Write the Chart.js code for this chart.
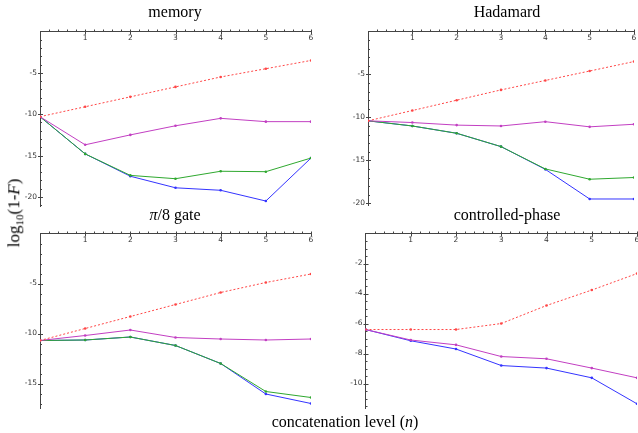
<!DOCTYPE html>
<html>
<head>
<meta charset="utf-8">
<script src="https://cdn.jsdelivr.net/npm/chart.js@4.4.1/dist/chart.umd.min.js"></script>
<style>
  html, body { margin: 0; padding: 0; background: #fff; }
  body { width: 638px; height: 433px; position: relative; overflow: hidden; }
  canvas { position: absolute; left: 0; top: 0; }
  .lbl { position: absolute; font-family: "Liberation Serif", "DejaVu Serif", serif; font-size: 16px; color: #000; white-space: nowrap; }
  .title { transform: translateX(-50%); }
</style>
</head>
<body>
<canvas id="c1" width="700" height="433"></canvas>
<canvas id="c2" width="700" height="433"></canvas>
<canvas id="c3" width="700" height="433"></canvas>
<canvas id="c4" width="700" height="433"></canvas>

<div class="lbl title" style="left:175px; top:3px;">memory</div>
<div class="lbl title" style="left:507px; top:3px;">Hadamard</div>
<div class="lbl title" style="left:175px; top:206px;"><i>π</i>/8 gate</div>
<div class="lbl title" style="left:507px; top:206px;">controlled-phase</div>
<div class="lbl" style="left:345px; top:413px; transform:translateX(-50%);">concatenation level (<i>n</i>)</div>
<div class="lbl" style="left:15px; top:213px; font-size:17px; transform:translate(-50%,-50%) rotate(-90deg);">log<sub style="font-size:11px;">10</sub>(1-<i>F</i>)</div>

<script>
// concatenation levels
const levels = [0, 1, 2, 3, 4, 5, 6];
const xTicks = [1, 2, 3, 4, 5, 6];

// memory
const memRed = [-10.3, -9.1, -7.9, -6.7, -5.5, -4.5, -3.5];
const memPurple = [-10.3, -13.7, -12.5, -11.4, -10.5, -10.9, -10.9];
const memGreen = [-10.3, -14.8, -17.4, -17.8, -16.9, -16.95, -15.3];
const memBlue = [-10.3, -14.8, -17.5, -18.9, -19.2, -20.5, -15.3];
const memTicks = [-5, -10, -15, -20];

// Hadamard
const hadRed = [-10.4, -9.2, -8.0, -6.8, -5.7, -4.6, -3.5];
const hadPurple = [-10.4, -10.6, -10.9, -11.0, -10.5, -11.1, -10.8];
const hadGreen = [-10.4, -11.0, -11.85, -13.4, -16.0, -17.2, -17.0];
const hadBlue = [-10.4, -11.0, -11.85, -13.4, -16.05, -19.5, -19.5];
const hadTicks = [-5, -10, -15, -20];

// pi/8 gate
const p8Red = [-10.7, -9.5, -8.3, -7.1, -5.9, -4.9, -4.05];
const p8Purple = [-10.7, -10.2, -9.65, -10.4, -10.55, -10.65, -10.55];
const p8Green = [-10.7, -10.65, -10.35, -11.2, -13.0, -15.8, -16.4];
const p8Blue = [-10.7, -10.65, -10.35, -11.2, -13.0, -16.05, -17.0];
const p8Ticks = [-5, -10, -15];

// controlled-phase
const cpRed = [-6.4, -6.4, -6.4, -6.0, -4.8, -3.77, -2.67];
const cpPurple = [-6.4, -7.1, -7.42, -8.2, -8.35, -8.97, -9.62];
const cpBlue = [-6.4, -7.15, -7.7, -8.8, -8.97, -9.62, -11.35];
const cpTicks = [-2, -4, -6, -8, -10];

const RED = '#ff4646', PURPLE = '#c23fc2', GREEN = '#2fa82f', BLUE = '#3434ff';
const AXIS = '#444';
const YAXIS_W = 30;

function ds(data, color, dashed) {
    return {
        data: levels.map((x, i) => ({ x: x, y: data[i] })),
        borderColor: color,
        backgroundColor: color,
        borderWidth: 1,
        borderDash: dashed ? [2, 2] : [],
        pointRadius: 1.3,
        pointBorderWidth: 0,
        tension: 0
    };
}

// Mathematica-like small ticks drawn onto the axis lines
const axisTicks = {
    id: 'axisTicks',
    afterDraw(chart, args, opts) {
        const ctx = chart.ctx;
        const xs = chart.scales.x, ys = chart.scales.y;
        const y0 = ys.getPixelForValue(0), x0 = xs.getPixelForValue(0);
        ctx.save();
        ctx.strokeStyle = AXIS;
        ctx.lineWidth = 1;
        ctx.beginPath();
        for (let v = 0.2; v <= 6.001; v += 0.2) {
            const px = Math.round(xs.getPixelForValue(v)) + 0.5;
            const major = Math.abs(v - Math.round(v)) < 0.01;
            ctx.moveTo(px, y0 - 2);
            ctx.lineTo(px, y0 + (major ? 3 : 0));
        }
        for (let v = -opts.minor; v >= ys.min; v -= opts.minor) {
            const py = Math.round(ys.getPixelForValue(v)) + 0.5;
            const major = Math.abs(v / opts.major - Math.round(v / opts.major)) < 0.01;
            ctx.moveTo(x0 - (major ? 2 : 0), py);
            ctx.lineTo(x0 + (major ? 3 : 2), py);
        }
        ctx.stroke();
        ctx.restore();
    }
};

function makeChart(id, box, yMin, yTicks, yMajor, yMinor, sets) {
    const canvas = document.getElementById(id);
    new Chart(canvas.getContext('2d'), {
        type: 'line',
        data: { datasets: sets },
        options: {
            responsive: false,
            animation: false,
            events: [],
            layout: {
                padding: { left: box.l - YAXIS_W, top: box.t, right: canvas.width - box.r, bottom: canvas.height - box.b }
            },
            scales: {
                x: {
                    type: 'linear',
                    position: 'top',
                    min: 0,
                    max: 6,
                    afterFit(s) { s.height = 0; },
                    afterBuildTicks(s) { s.ticks = xTicks.map(v => ({ value: v })); },
                    grid: { display: false, drawTicks: false },
                    border: { display: true, color: AXIS, width: 1 },
                    ticks: {
                        mirror: true,
                        padding: 2,
                        color: '#333',
                        font: { family: 'DejaVu Sans', size: 7.5 },
                        maxRotation: 0,
                        autoSkip: false
                    }
                },
                y: {
                    type: 'linear',
                    position: 'left',
                    min: yMin,
                    max: 0,
                    afterFit(s) { s.width = YAXIS_W; },
                    afterBuildTicks(s) { s.ticks = yTicks.map(v => ({ value: v })); },
                    grid: { display: false, drawTicks: false },
                    border: { display: true, color: AXIS, width: 1 },
                    ticks: {
                        padding: 3,
                        color: '#333',
                        font: { family: 'DejaVu Sans', size: 7.5 },
                        autoSkip: false
                    }
                }
            },
            plugins: {
                legend: { display: false },
                tooltip: { enabled: false },
                axisTicks: { major: yMajor, minor: yMinor }
            }
        },
        plugins: [axisTicks]
    });
}

makeChart('c1', { l: 40, r: 311, t: 31.5, b: 206 }, -21.1, memTicks, 5, 1, [
    ds(memRed, RED, true), ds(memPurple, PURPLE), ds(memGreen, GREEN), ds(memBlue, BLUE)
]);
makeChart('c2', { l: 368, r: 634, t: 31.5, b: 205 }, -20.2, hadTicks, 5, 1, [
    ds(hadRed, RED, true), ds(hadPurple, PURPLE), ds(hadGreen, GREEN), ds(hadBlue, BLUE)
]);
makeChart('c3', { l: 40, r: 311, t: 233.5, b: 408 }, -17.45, p8Ticks, 5, 1, [
    ds(p8Red, RED, true), ds(p8Purple, PURPLE), ds(p8Green, GREEN), ds(p8Blue, BLUE)
]);
makeChart('c4', { l: 365.5, r: 637, t: 233.5, b: 408 }, -11.63, cpTicks, 2, 0.5, [
    ds(cpRed, RED, true), ds(cpPurple, PURPLE), ds(cpBlue, BLUE)
]);
</script>
</body>
</html>
